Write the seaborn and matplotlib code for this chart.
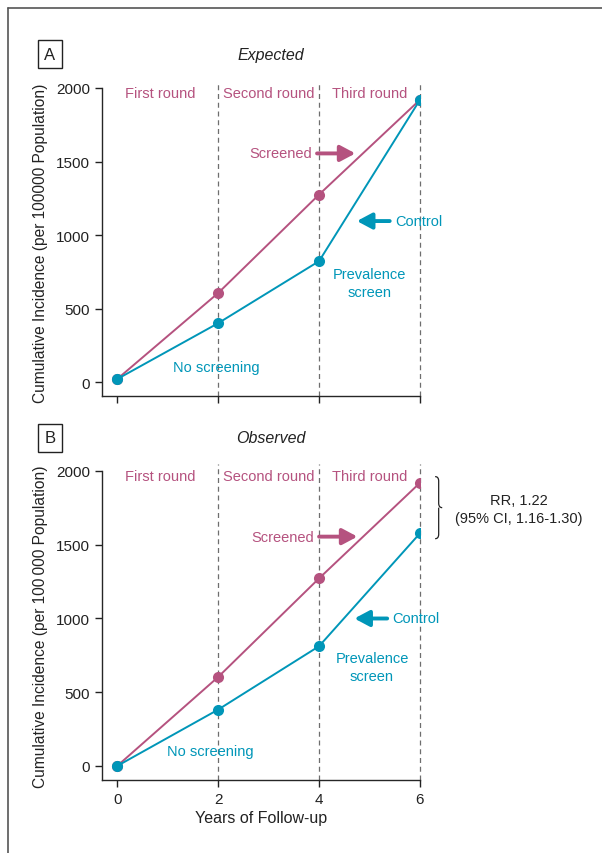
"""
Expected vs observed cumulative incidence, screened vs control arms.
"""

import numpy as np
import pandas as pd
import matplotlib
matplotlib.use("Agg")
import matplotlib.pyplot as plt
import seaborn as sns
from matplotlib.patches import PathPatch
from matplotlib.path import Path
from matplotlib.lines import Line2D

# ---------------------------------------------------------------------------
# Data
# ---------------------------------------------------------------------------
years = [0, 2, 4, 6]
groups = ["Screened", "Control"]

expected_screened = [20, 605, 1275, 1920]
expected_control = [20, 400, 822, 1920]

observed_screened = [0, 603, 1272, 1920]
observed_control = [0, 382, 812, 1578]

round_labels = ["First round", "Second round", "Third round"]
round_x = [0.85, 3.0, 5.0]
yticks = [0, 500, 1000, 1500, 2000]
xticks = [0, 2, 4, 6]

PINK = "#b5527f"
BLUE = "#0096b8"
GREY = "#6e6e6e"
INK = "#222222"
FS = 10.5

sns.set_theme(style="ticks")
plt.rcParams["font.family"] = ["Liberation Sans", "DejaVu Sans"]
plt.rcParams["axes.linewidth"] = 1.0
plt.rcParams["xtick.major.size"] = 5
plt.rcParams["ytick.major.size"] = 5
plt.rcParams["xtick.major.width"] = 1.0
plt.rcParams["ytick.major.width"] = 1.0

fig = plt.figure(figsize=(6.02, 8.54), dpi=100)

# frame around the figure (top and left edges visible)
fig.add_artist(Line2D([8 / 602, 8 / 602], [0, 1 - 9 / 854], transform=fig.transFigure,
                      color="#555555", lw=1.2))
fig.add_artist(Line2D([8 / 602, 1], [1 - 9 / 854, 1 - 9 / 854], transform=fig.transFigure,
                      color="#555555", lw=1.2))

ax_a = fig.add_axes([102 / 602, 1 - 397 / 854, 318 / 602, 308 / 854])
ax_b = fig.add_axes([102 / 602, 1 - 781 / 854, 318 / 602, 309 / 854])


def make_frame(screened, control):
    return pd.DataFrame({
        "year": years * 2,
        "incidence": screened + control,
        "group": ["Screened"] * len(years) + ["Control"] * len(years),
    })


def draw_panel(ax, df, letter, title, ylabel, ann):
    sns.lineplot(data=df, x="year", y="incidence", hue="group",
                 hue_order=groups, palette=[PINK, BLUE], marker="o",
                 markersize=8, markeredgewidth=0, linewidth=1.4,
                 legend=False, ax=ax, zorder=3)
    ax.set_xlim(-0.3, 6.0)
    ax.set_ylim(-95, 2000)
    ax.vlines([2, 4, 6], -95, 2050, colors=GREY, linestyles=(0, (4, 3)),
              linewidth=0.9, clip_on=False, zorder=1)
    sns.despine(ax=ax)
    ax.set_yticks(yticks)
    ax.set_xticks(xticks)
    ax.tick_params(labelsize=11, colors=INK)
    ax.set_ylabel(ylabel, fontsize=11.2, color=INK, labelpad=6)

    for lab, x in zip(round_labels, round_x):
        ax.text(x, ann["round_y"], lab, color=PINK, fontsize=FS,
                ha="center", va="center")

    # Screened label + arrow
    sx, sy = ann["screened"]
    ax.text(sx, sy, "Screened", color=PINK, fontsize=FS, ha="right", va="center")
    ax.annotate("", xy=(sx + 0.86, sy), xytext=(sx + 0.1, sy),
                arrowprops=dict(arrowstyle="-|>,head_length=0.75,head_width=0.4",
                                color=PINK, lw=2.8, shrinkA=0, shrinkB=0))
    # Control label + arrow
    cx, cy = ann["control"]
    ax.text(cx, cy, "Control", color=BLUE, fontsize=FS, ha="left", va="center")
    ax.annotate("", xy=(cx - 0.75, cy), xytext=(cx - 0.1, cy),
                arrowprops=dict(arrowstyle="-|>,head_length=0.75,head_width=0.4",
                                color=BLUE, lw=2.8, shrinkA=0, shrinkB=0))
    px, py = ann["prev"]
    ax.text(px, py, "Prevalence\nscreen", color=BLUE, fontsize=FS,
            ha="center", va="center", linespacing=1.4)
    nx, ny = ann["nos"]
    ax.text(nx, ny, "No screening", color=BLUE, fontsize=FS,
            ha="center", va="center")

    # panel letter box and title
    ax.text(-1.33, ann["title_y"], letter, fontsize=12, ha="center", va="center",
            clip_on=False, color=INK,
            bbox=dict(boxstyle="square,pad=0.4", fc="white", ec=INK, lw=1.0))
    ax.text(3.05, ann["title_y"], title, fontsize=11.5, style="italic",
            ha="center", va="center", color=INK)


draw_panel(ax_a, make_frame(expected_screened, expected_control), "A", "Expected",
           "Cumulative Incidence (per 100000 Population)",
           dict(round_y=1965, screened=(3.86, 1555), control=(5.5, 1095),
                prev=(5.0, 675), nos=(1.97, 100), title_y=2230))
ax_a.set_xticklabels([])
ax_a.set_xlabel("")

draw_panel(ax_b, make_frame(observed_screened, observed_control), "B", "Observed",
           "Cumulative Incidence (per 100\u2009000 Population)",
           dict(round_y=1965, screened=(3.9, 1555), control=(5.45, 1000),
                prev=(5.05, 670), nos=(1.85, 100), title_y=2225))
ax_b.set_xlabel("Years of Follow-up", fontsize=11.5, color=INK, labelpad=3)

# brace and relative-risk text on panel B
y_top, y_bot, x0, w = 1962, 1541, 6.3, 0.07
ym = (y_top + y_bot) / 2
verts = [(x0, y_top), (x0 + w, y_top), (x0 + w, y_top - 30), (x0 + w, ym + 30),
         (x0 + w, ym), (x0 + 2 * w, ym),
         (x0 + w, ym), (x0 + w, ym - 30), (x0 + w, y_bot + 30),
         (x0 + w, y_bot), (x0, y_bot)]
codes = [Path.MOVETO, Path.CURVE3, Path.CURVE3, Path.LINETO,
         Path.CURVE3, Path.CURVE3,
         Path.MOVETO, Path.CURVE3, Path.LINETO,
         Path.CURVE3, Path.CURVE3]
ax_b.add_patch(PathPatch(Path(verts, codes), fc="none", ec=INK, lw=0.9,
                         clip_on=False))
ax_b.text(7.95, 1745, "RR, 1.22\n(95% CI, 1.16-1.30)", fontsize=FS,
          ha="center", va="center", color=INK, linespacing=1.35)

fig.savefig("out.png", dpi=100)
plt.close(fig)
